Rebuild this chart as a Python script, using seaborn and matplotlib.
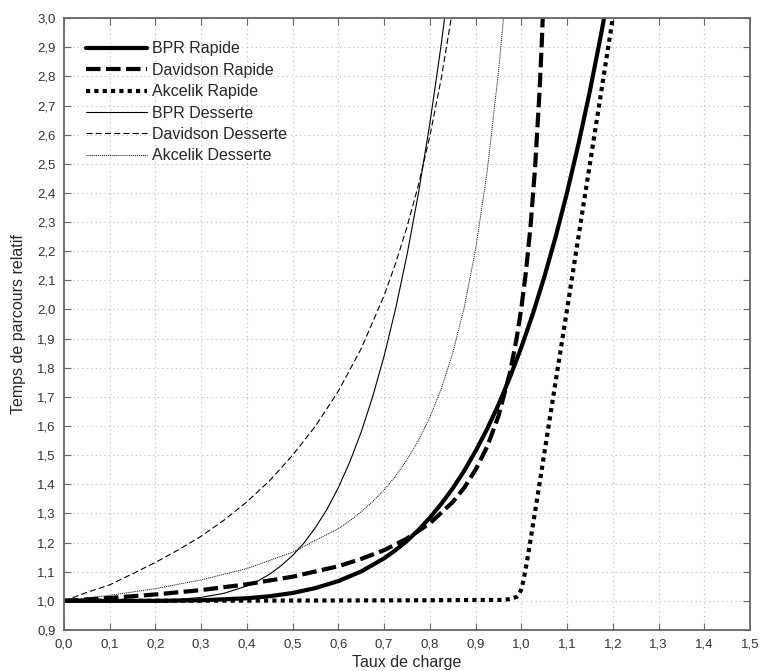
import numpy as np
import pandas as pd
import matplotlib
matplotlib.use('Agg')
import matplotlib.pyplot as plt
import seaborn as sns

# load ratio (x) and relative travel time (y)
x_bpr_rap = [0.0, 0.1, 0.2, 0.3, 0.4, 0.45, 0.5, 0.55, 0.6, 0.65, 0.7, 0.725, 0.75, 0.775,
             0.8, 0.825, 0.85, 0.875, 0.9, 0.925, 0.95, 0.975, 1.0, 1.025, 1.05, 1.075, 1.1,
             1.125, 1.15, 1.175, 1.2]
y_bpr_rap = [1.0, 1.000, 1.000, 1.002, 1.009, 1.016, 1.027, 1.044, 1.068, 1.101, 1.146, 1.174,
             1.206, 1.243, 1.285, 1.333, 1.386, 1.446, 1.514, 1.589, 1.673, 1.767, 1.870,
             1.984, 2.110, 2.249, 2.401, 2.568, 2.750, 2.949, 3.160]

x_dav_rap = [0.0, 0.1, 0.2, 0.3, 0.4, 0.5, 0.6, 0.65, 0.7, 0.75, 0.8, 0.85, 0.875, 0.9, 0.925,
             0.95, 0.975, 0.99, 1.0, 1.01, 1.02, 1.03, 1.04, 1.045, 1.05]
y_dav_rap = [1.0, 1.010, 1.022, 1.037, 1.057, 1.083, 1.119, 1.144, 1.174, 1.214, 1.266, 1.339,
             1.388, 1.450, 1.528, 1.634, 1.782, 1.903, 2.004, 2.128, 2.283, 2.484, 2.752,
             2.924, 3.130]

x_akc_rap = [0.0, 0.5, 0.8, 0.9, 0.95, 0.96, 0.97, 0.98, 0.99, 0.995, 1.0, 1.005, 1.01, 1.015,
             1.02, 1.03, 1.04, 1.06, 1.08, 1.1, 1.125, 1.15, 1.175, 1.2]
y_akc_rap = [1.0, 1.001, 1.002, 1.003, 1.003, 1.004, 1.005, 1.008, 1.014, 1.022, 1.040, 1.072,
             1.114, 1.160, 1.208, 1.305, 1.404, 1.603, 1.802, 2.00, 2.25, 2.50, 2.75, 3.00]

x_bpr_des = [0.0, 0.1, 0.2, 0.25, 0.3, 0.35, 0.4, 0.425, 0.45, 0.475, 0.5, 0.525, 0.55, 0.575,
             0.6, 0.625, 0.65, 0.675, 0.7, 0.725, 0.75, 0.775, 0.8, 0.825, 0.85]
y_bpr_des = [1.0, 1.000, 1.002, 1.005, 1.012, 1.026, 1.051, 1.069, 1.092, 1.121, 1.156, 1.199,
             1.252, 1.314, 1.389, 1.477, 1.580, 1.701, 1.840, 2.002, 2.187, 2.398, 2.638,
             2.911, 3.219]

x_dav_des = [0.0, 0.05, 0.1, 0.15, 0.2, 0.25, 0.3, 0.35, 0.4, 0.45, 0.5, 0.55, 0.6, 0.65, 0.7,
             0.725, 0.75, 0.775, 0.8, 0.825, 0.85]
y_dav_des = [1.0, 1.029, 1.055, 1.093, 1.132, 1.175, 1.222, 1.277, 1.340, 1.413, 1.500, 1.600,
             1.720, 1.866, 2.048, 2.158, 2.283, 2.427, 2.595, 2.793, 3.031]

x_akc_des = [0.0, 0.1, 0.2, 0.3, 0.4, 0.5, 0.6, 0.625, 0.65, 0.675, 0.7, 0.725, 0.75, 0.775,
             0.8, 0.825, 0.85, 0.875, 0.9, 0.925, 0.95, 0.96, 0.975]
y_akc_des = [1.0, 1.019, 1.042, 1.072, 1.111, 1.167, 1.248, 1.275, 1.306, 1.341, 1.381, 1.428,
             1.484, 1.550, 1.630, 1.728, 1.850, 2.006, 2.206, 2.469, 2.815, 2.981, 3.266]

labels = ['BPR Rapide', 'Davidson Rapide', 'Akcelik Rapide',
          'BPR Desserte', 'Davidson Desserte', 'Akcelik Desserte']

xticks = ['0,0', '0,1', '0,2', '0,3', '0,4', '0,5', '0,6', '0,7', '0,8', '0,9', '1,0',
          '1,1', '1,2', '1,3', '1,4', '1,5']
yticks = ['0,9', '1,0', '1,1', '1,2', '1,3', '1,4', '1,5', '1,6', '1,7', '1,8', '1,9', '2,0',
          '2,1', '2,2', '2,3', '2,4', '2,5', '2,6', '2,7', '2,8', '2,9', '3,0']

sns.set_style('ticks')
plt.rcParams['font.family'] = ['Liberation Sans', 'DejaVu Sans']

fig = plt.figure(figsize=(7.6, 6.71), dpi=100)
ax = fig.add_axes([0.0842, 0.0611, 0.9026, 0.9119])

series = [(x_bpr_rap, y_bpr_rap, 3.0, '-'),
          (x_dav_rap, y_dav_rap, 3.0, (0, (3.5, 1.3))),
          (x_akc_rap, y_akc_rap, 3.0, (0, (1, 1))),
          (x_bpr_des, y_bpr_des, 0.8, '-'),
          (x_dav_des, y_dav_des, 0.8, (0, (5.5, 2.8))),
          (x_akc_des, y_akc_des, 0.7, (0, (1, 1)))]

for (xs, ys, lw, ls), lab in zip(series, labels):
    df = pd.DataFrame({'x': xs, 'y': ys})
    sns.lineplot(data=df, x='x', y='y', ax=ax, color='black', lw=lw, linestyle=ls,
                 label=lab, estimator=None)

ax.set_xlim(0, 1.5)
ax.set_ylim(0.9, 3.0)
ax.set_xticks(np.arange(len(xticks)) * 0.1)
ax.set_xticklabels(xticks)
ax.set_yticks(0.9 + np.arange(len(yticks)) * 0.1)
ax.set_yticklabels(yticks)
ax.tick_params(direction='in', top=True, right=True, length=5, width=0.8,
               color='#666666', labelsize=9.5, labelcolor='#333333', pad=6)
ax.grid(True, color='#bbbbbb', linestyle=(0, (1, 3)), lw=0.8)
for sp in ax.spines.values():
    sp.set_color('#666666')
    sp.set_linewidth(1.3)

ax.set_xlabel('Taux de charge', fontsize=11.5, labelpad=3)
ax.set_ylabel('Temps de parcours relatif', fontsize=11.5, labelpad=8)

ax.legend(loc='upper left', bbox_to_anchor=(0.032, 0.962), frameon=False, fontsize=11.5,
          handlelength=3.8, handletextpad=0.35, labelspacing=0.4, borderaxespad=0,
          borderpad=0)

plt.savefig('out.png', dpi=100)
